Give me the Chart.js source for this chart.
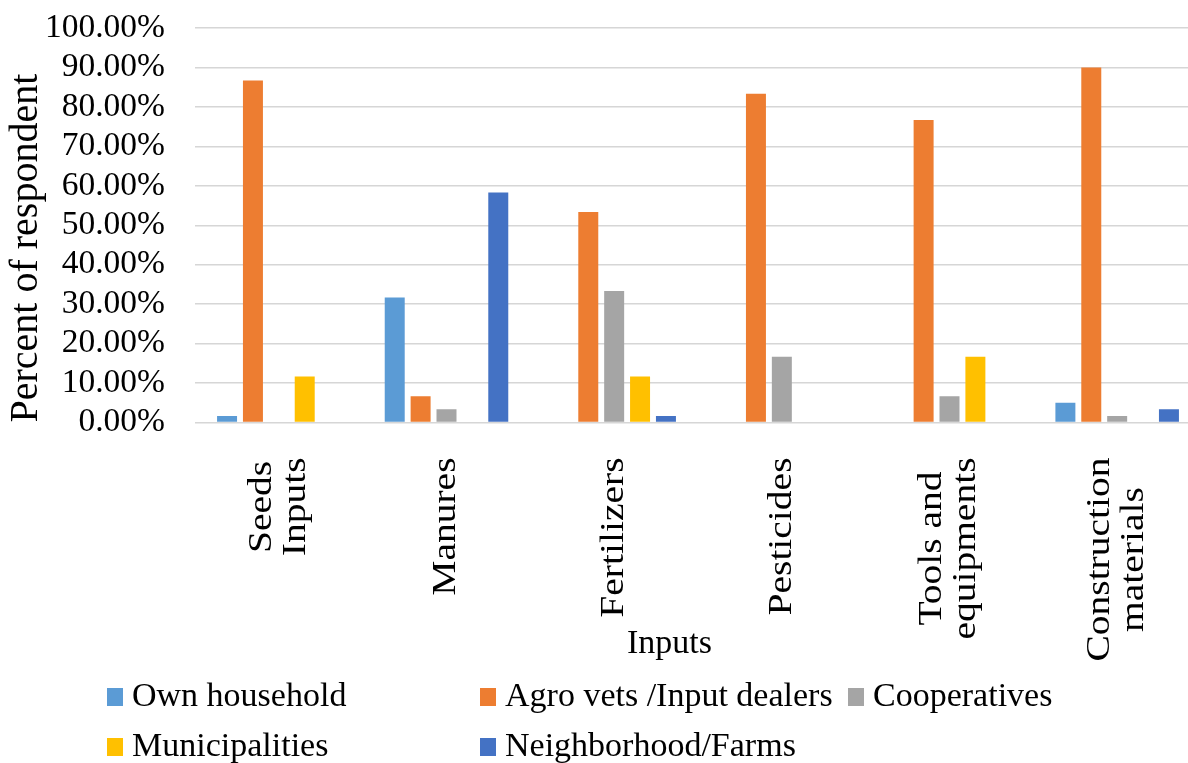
<!DOCTYPE html>
<html>
<head>
<meta charset="utf-8">
<script src="https://cdn.jsdelivr.net/npm/chart.js@4.4.1/dist/chart.umd.min.js"></script>
<style>
  html, body { margin: 0; padding: 0; background: #fff; overflow: hidden; }
  #wrap { position: relative; width: 1188px; height: 763px; overflow: hidden; }
  #c { position: absolute; left: 0; top: 0; }
  #legend { position: absolute; left: 0; top: 670px; width: 1188px; height: 100px;
            font-family: "Liberation Serif", "Times New Roman", serif; font-size: 34px; color: #000; }
  .item { position: absolute; display: flex; align-items: center; height: 50px; white-space: nowrap; }
  .sw { width: 16px; height: 18px; margin-right: 9px; margin-top: 4px; flex: none; }
</style>
</head>
<body>
<div id="wrap">
  <canvas id="c" width="1201" height="763"></canvas>
  <div id="legend"></div>
</div>
<script>
// Input categories (multi-line where the label wraps)
const categories = [
  ["Seeds", "Inputs"],
  ["Manures"],
  ["Fertilizers"],
  ["Pesticides"],
  ["Tools and", "equipments"],
  ["Construction", "materials"]
];

// Share of respondents (%) by source, per input category
const ownHousehold   = [1.67, 31.67, 0, 0, 0, 5.00];
const agroVets       = [86.67, 6.67, 53.33, 83.33, 76.67, 90.00];
const cooperatives   = [0, 3.33, 33.33, 16.67, 6.67, 1.67];
const municipalities = [11.67, 0, 11.67, 0, 16.67, 0];
const neighborhood   = [0, 58.33, 1.67, 0, 0, 3.33];

const seriesNames  = ["Own household", "Agro vets /Input dealers", "Cooperatives", "Municipalities", "Neighborhood/Farms"];
const seriesValues = [ownHousehold, agroVets, cooperatives, municipalities, neighborhood];
const seriesColors = ["#5b9bd5", "#ed7d31", "#a5a5a5", "#ffc000", "#4472c4"];

const yMin = 0, yMax = 100, yStep = 10;
const xTitle = "Inputs";
const yTitle = "Percent of respondent";

const SERIF = '"Liberation Serif", "Times New Roman", serif';

// Rotated category labels and the x-axis title, laid out from the category scale
const xLabelPlugin = {
  id: 'xLabels',
  afterDraw(chart) {
    const { ctx } = chart;
    const x = chart.scales.x;
    const lineGap = 34;
    const squeeze = 0.85;   // narrower glyphs across the rotated line
    ctx.save();
    ctx.fillStyle = '#000';
    ctx.textAlign = 'center';
    ctx.textBaseline = 'middle';
    ctx.font = '39.5px ' + SERIF;
    const top = x.top + 35;
    categories.forEach((lines, i) => {
      const px = x.getPixelForValue(i);
      const maxW = Math.max(...lines.map(l => ctx.measureText(l).width));
      ctx.save();
      ctx.translate(px, top);
      ctx.rotate(-Math.PI / 2);
      ctx.scale(1, squeeze);
      lines.forEach((l, j) => {
        ctx.fillText(l, -maxW / 2, (j - (lines.length - 1) / 2) * lineGap / squeeze);
      });
      ctx.restore();
    });
    ctx.font = '34px ' + SERIF;
    ctx.fillText(xTitle, x.left + x.width * 0.4717, x.top + 222);
    ctx.restore();
  }
};

const chart = new Chart(document.getElementById('c'), {
  type: 'bar',
  data: {
    labels: categories.map(c => c.join(' ')),
    datasets: seriesNames.map((name, i) => ({
      label: name,
      data: seriesValues[i],
      backgroundColor: seriesColors[i],
      borderWidth: 0,
      barPercentage: 0.772,
      categoryPercentage: 0.772
    }))
  },
  options: {
    responsive: false,
    animation: false,
    layout: { padding: { top: 28, right: 0, bottom: 240.5, left: 0 } },
    plugins: { legend: { display: false }, tooltip: { enabled: false } },
    scales: {
      x: {
        grid: { display: false, drawTicks: false },
        border: { display: false },
        ticks: { display: false },
        afterFit(s) { s.height = 100; }
      },
      y: {
        min: yMin,
        max: yMax,
        ticks: {
          stepSize: yStep,
          autoSkip: false,
          callback: v => v.toFixed(2) + '%',
          font: { family: SERIF, size: 33.5, lineHeight: 1 },
          color: '#000',
          padding: 8
        },
        grid: { color: '#d6d6d6', lineWidth: 1.5, drawTicks: true, tickLength: 22, tickColor: 'rgba(0,0,0,0)' },
        border: { display: false },
        title: {
          display: true,
          text: yTitle,
          align: 'start',
          color: '#000',
          font: { family: SERIF, size: 40, lineHeight: 1.2 },
          padding: { top: 2, bottom: 0 }
        },
        afterFit(s) { s.width = 195; }
      }
    }
  },
  plugins: [xLabelPlugin]
});

// Legend in three fixed columns, two rows
const legend = document.getElementById('legend');
const colLeft = [107, 480, 848];
seriesNames.forEach((name, i) => {
  const item = document.createElement('div');
  item.className = 'item';
  item.style.left = colLeft[i % 3] + 'px';
  item.style.top = (Math.floor(i / 3) * 50) + 'px';
  const sw = document.createElement('span');
  sw.className = 'sw';
  sw.style.background = seriesColors[i];
  const tx = document.createElement('span');
  tx.textContent = name;
  item.appendChild(sw);
  item.appendChild(tx);
  legend.appendChild(item);
});
</script>
</body>
</html>
